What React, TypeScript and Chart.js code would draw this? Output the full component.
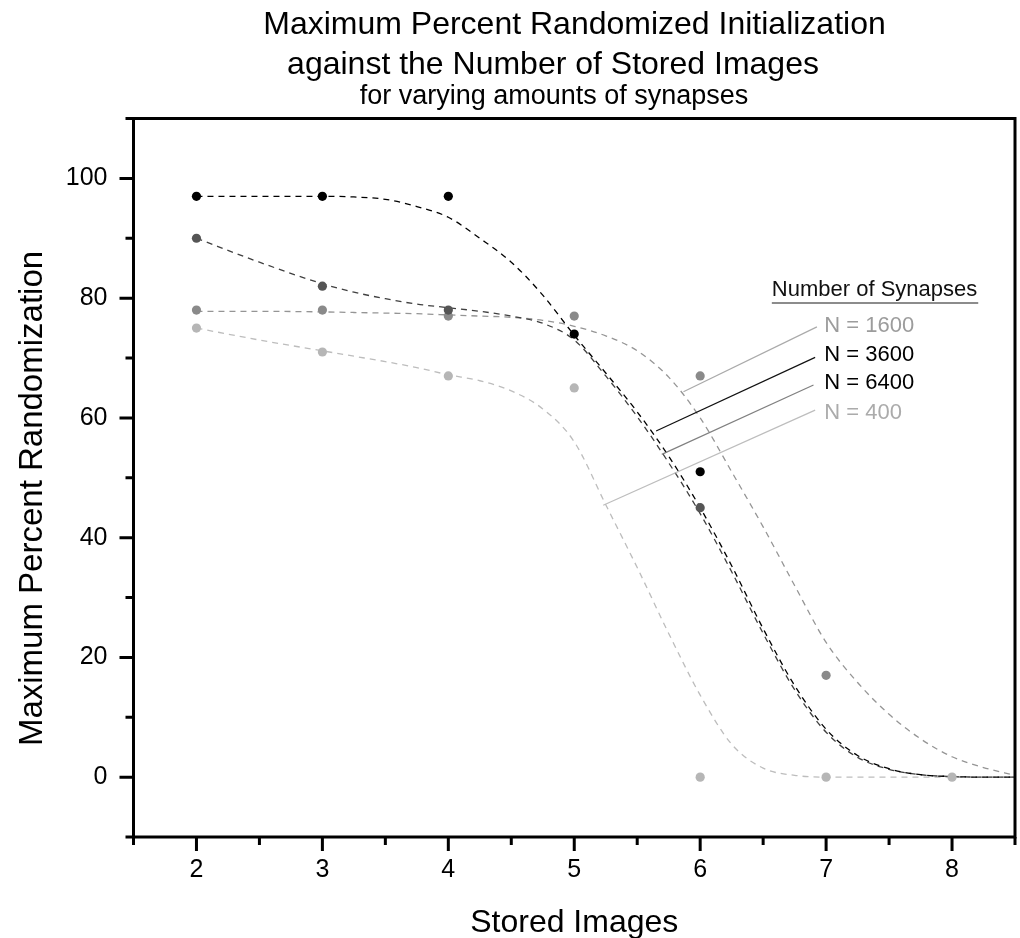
import React, { useEffect, useRef } from 'react';
import { Chart, registerables } from 'chart.js';

Chart.register(...registerables);

// ---- data -------------------------------------------------------------
const storedImages = [2, 3, 4, 5, 6, 7, 8];

// measured maximum percent randomization per synapse count (null = no marker)
const pointsN1600 = [78, 78, 77, 77, 67, 17, null];
const pointsN3600 = [97, 97, 97, 74, 51, null, null];
const pointsN6400 = [90, 82, 78, null, 45, null, null];
const pointsN400 = [75, 71, 67, 65, 0, 0, 0];

// fitted curves, sampled along the stored-images axis
const fitX = [2, 2.5, 3, 3.25, 3.5, 3.75, 4, 4.25, 4.5, 4.75, 5, 5.25, 5.5, 5.75, 6, 6.25, 6.5, 6.75, 7, 7.25, 7.5, 7.75, 8, 8.25, 8.5];
const fitN3600 = [97, 97, 97, 96.9, 96.5, 95.3, 93.5, 90, 86, 80.5, 73.8, 67.5, 61, 53.6, 45, 35.3, 24.8, 15.3, 8, 3.6, 1.4, 0.4, 0.1, 0, 0];
const fitN6400 = [90, 86, 82.4, 81, 79.9, 79, 78.4, 77.8, 77, 75.8, 73, 67, 60.2, 52.5, 44, 34.3, 24, 14.6, 7.5, 3.3, 1.3, 0.4, 0.1, 0, 0];
const fitN1600 = [77.8, 77.8, 77.7, 77.6, 77.5, 77.4, 77.2, 77, 76.8, 76.3, 75.3, 73.7, 71.2, 66.8, 60, 51, 41.8, 32, 22.5, 15.8, 10.5, 6.4, 3.4, 1.6, 0.3];
const fitN400 = [75, 73, 71.2, 70.3, 69.4, 68.4, 67.2, 66.2, 64.5, 61.5, 56, 45.5, 35, 24, 13.7, 5.5, 1.5, 0.3, 0, 0, 0, 0, 0, 0, 0];

// axis ticks
const xMajorTicks = [2, 3, 4, 5, 6, 7, 8];
const xMinorTicks = [1.5, 2.5, 3.5, 4.5, 5.5, 6.5, 7.5, 8.5];
const yMajorTicks = [0, 20, 40, 60, 80, 100];
const yMinorTicks = [-10, 10, 30, 50, 70, 90, 110];

// text
const titleLines = ['Maximum Percent Randomized Initialization', 'against the Number of Stored Images'];
const subtitleText = 'for varying amounts of synapses';
const xAxisTitle = 'Stored Images';
const yAxisTitle = 'Maximum Percent Randomization';
const legendTitle = 'Number of Synapses';
const seriesNames = ['N = 1600', 'N = 3600', 'N = 6400', 'N = 400'];

// ---- styling ----------------------------------------------------------
const FONT = '"Liberation Sans", Arial, Helvetica, sans-serif';

const seriesStyle = [
  { point: '#8a8a8a', curve: '#959595', text: '#9c9c9c', leader: '#aaaaaa' }, // 1600
  { point: '#000000', curve: '#000000', text: '#000000', leader: '#111111' }, // 3600
  { point: '#555555', curve: '#404040', text: '#000000', leader: '#808080' }, // 6400
  { point: '#b6b6b6', curve: '#bdbdbd', text: '#ababab', leader: '#bdbdbd' }, // 400
];

// legend entries: text anchor and leader line, in axis units
const legendLayout = {
  title: { x: 6.569, y: 80.33, underlineY: 79.2, underlineEnd: 8.208 },
  textX: 6.985,
  entries: [
    { y: 74.27, from: [6.927, 75.2], to: [5.867, 64.35] },
    { y: 69.48, from: [6.913, 70.1], to: [5.65, 57.8] },
    { y: 64.75, from: [6.9, 65.5], to: [5.695, 53.9] },
    { y: 59.84, from: [6.913, 61.3], to: [5.23, 45.4] },
  ],
};

const decorPlugin = {
  id: 'decor',
  afterDraw(chart: any) {
    const { ctx, chartArea: a, scales } = chart;
    const xs = scales.x;
    const ys = scales.y;
    ctx.save();

    // frame
    ctx.strokeStyle = '#000';
    ctx.lineWidth = 3;
    ctx.strokeRect(a.left, a.top, a.right - a.left, a.bottom - a.top);

    // tick marks
    ctx.lineWidth = 3;
    ctx.beginPath();
    yMajorTicks.forEach((v) => {
      const py = ys.getPixelForValue(v);
      ctx.moveTo(a.left - 14, py);
      ctx.lineTo(a.left, py);
    });
    yMinorTicks.forEach((v) => {
      const py = ys.getPixelForValue(v);
      ctx.moveTo(a.left - 8, py);
      ctx.lineTo(a.left, py);
    });
    xMajorTicks.forEach((v) => {
      const px = xs.getPixelForValue(v);
      ctx.moveTo(px, a.bottom);
      ctx.lineTo(px, a.bottom + 14);
    });
    xMinorTicks.forEach((v) => {
      const px = xs.getPixelForValue(v);
      ctx.moveTo(px, a.bottom);
      ctx.lineTo(px, a.bottom + 8);
    });
    ctx.stroke();

    // titles
    ctx.fillStyle = '#000';
    ctx.textAlign = 'center';
    ctx.textBaseline = 'alphabetic';
    ctx.font = `32px ${FONT}`;
    ctx.fillText(titleLines[0], 574.5, 33.5);
    ctx.fillText(titleLines[1], 553, 74);
    ctx.font = `27px ${FONT}`;
    ctx.fillText(subtitleText, 554, 104);

    // axis titles
    ctx.font = `32px ${FONT}`;
    ctx.fillText(xAxisTitle, (a.left + a.right) / 2, 931.5);
    ctx.save();
    ctx.translate(42, 498.5);
    ctx.rotate(-Math.PI / 2);
    ctx.font = `33px ${FONT}`;
    ctx.fillText(yAxisTitle, 0, 0);
    ctx.restore();

    // legend with leader lines
    const L = legendLayout;
    ctx.textAlign = 'left';
    ctx.font = `22px ${FONT}`;
    ctx.fillStyle = '#111';
    const tx = xs.getPixelForValue(L.title.x);
    ctx.fillText(legendTitle, tx, ys.getPixelForValue(L.title.y));
    ctx.strokeStyle = '#666';
    ctx.lineWidth = 1.5;
    ctx.beginPath();
    const uy = ys.getPixelForValue(L.title.underlineY);
    ctx.moveTo(tx, uy);
    ctx.lineTo(xs.getPixelForValue(L.title.underlineEnd), uy);
    ctx.stroke();

    L.entries.forEach((e, i) => {
      const st = seriesStyle[i];
      ctx.strokeStyle = st.leader;
      ctx.lineWidth = 1.2;
      ctx.beginPath();
      ctx.moveTo(xs.getPixelForValue(e.from[0]), ys.getPixelForValue(e.from[1]));
      ctx.lineTo(xs.getPixelForValue(e.to[0]), ys.getPixelForValue(e.to[1]));
      ctx.stroke();
      ctx.fillStyle = st.text;
      ctx.fillText(seriesNames[i], xs.getPixelForValue(L.textX), ys.getPixelForValue(e.y));
    });

    ctx.restore();
  },
};

function markers(values: (number | null)[]) {
  const out: { x: number; y: number }[] = [];
  storedImages.forEach((x, i) => {
    const v = values[i];
    if (v !== null && v !== undefined) out.push({ x, y: v });
  });
  return out;
}

function curve(values: number[]) {
  return fitX.map((x, i) => ({ x, y: values[i] }));
}

export default function App() {
  const canvasRef = useRef<HTMLCanvasElement>(null);

  useEffect(() => {
    const canvas = canvasRef.current;
    if (!canvas) return;

    const pointSet = (idx: number, values: (number | null)[], order: number) => ({
      label: seriesNames[idx],
      data: markers(values),
      showLine: false,
      backgroundColor: seriesStyle[idx].point,
      borderColor: seriesStyle[idx].point,
      pointRadius: 4.6,
      pointBorderWidth: 0,
      pointStyle: 'circle',
      order,
    });
    const curveSet = (idx: number, values: number[], order: number) => ({
      label: seriesNames[idx] + ' fit',
      data: curve(values),
      showLine: true,
      fill: false,
      borderColor: seriesStyle[idx].curve,
      borderWidth: 1.3,
      borderDash: [6, 5],
      pointRadius: 0,
      cubicInterpolationMode: 'monotone',
      order,
    });

    const chart = new Chart(canvas, {
      type: 'scatter',
      data: {
        datasets: [
          pointSet(3, pointsN400, 0),
          pointSet(1, pointsN3600, 1),
          pointSet(2, pointsN6400, 2),
          pointSet(0, pointsN1600, 3),
          curveSet(1, fitN3600, 10),
          curveSet(2, fitN6400, 11),
          curveSet(0, fitN1600, 12),
          curveSet(3, fitN400, 13),
        ] as any,
      },
      options: {
        responsive: false,
        animation: false,
        devicePixelRatio: 1,
        events: [],
        layout: { padding: { top: 118.5, right: 5, left: 0, bottom: 0 } },
        plugins: {
          legend: { display: false },
          tooltip: { enabled: false },
          title: { display: false },
        },
        scales: {
          x: {
            type: 'linear',
            min: 1.5,
            max: 8.5,
            grid: { display: false, drawTicks: false },
            border: { display: false },
            afterBuildTicks: (s: any) => {
              s.ticks = xMajorTicks.map((v) => ({ value: v }));
            },
            afterFit: (s: any) => {
              s.height = 101;
            },
            ticks: {
              font: { family: FONT, size: 25 },
              color: '#000',
              padding: 18,
              maxRotation: 0,
              autoSkip: false,
              callback: (v: any) => String(v),
            },
          },
          y: {
            type: 'linear',
            min: -10,
            max: 110,
            grid: { display: false, drawTicks: false },
            border: { display: false },
            afterBuildTicks: (s: any) => {
              s.ticks = yMajorTicks.map((v) => ({ value: v }));
            },
            afterFit: (s: any) => {
              s.width = 133.5;
            },
            ticks: {
              font: { family: FONT, size: 25 },
              color: '#000',
              padding: 26,
              autoSkip: false,
              callback: (v: any) => String(v),
            },
          },
        },
      } as any,
      plugins: [decorPlugin],
    });

    return () => chart.destroy();
  }, []);

  return (
    <div style={{ position: 'fixed', left: 0, top: 0, width: 1020, height: 938, background: '#fff' }}>
      <canvas ref={canvasRef} width={1020} height={938} style={{ display: 'block' }} />
    </div>
  );
}
